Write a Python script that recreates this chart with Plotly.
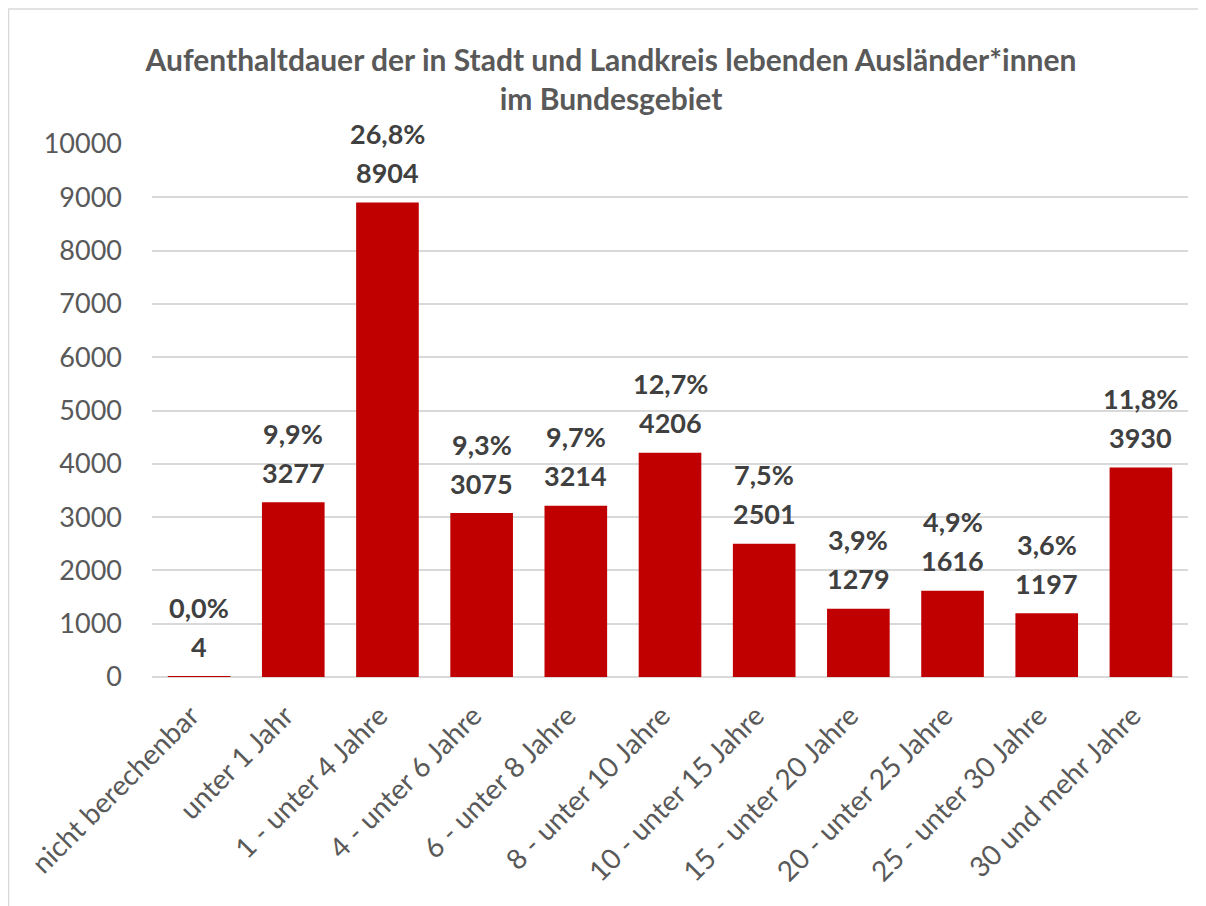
import plotly.graph_objects as go

categories = ["nicht berechenbar", "unter 1 Jahr", "1 - unter 4 Jahre", "4 - unter 6 Jahre",
              "6 - unter 8 Jahre", "8 - unter 10 Jahre", "10 - unter 15 Jahre",
              "15 - unter 20 Jahre", "20 - unter 25 Jahre", "25 - unter 30 Jahre",
              "30 und mehr Jahre"]
values = [4, 3277, 8904, 3075, 3214, 4206, 2501, 1279, 1616, 1197, 3930]
percents = ["0,0%", "9,9%", "26,8%", "9,3%", "9,7%", "12,7%", "7,5%", "3,9%", "4,9%", "3,6%", "11,8%"]
y_ticks = [0, 1000, 2000, 3000, 4000, 5000, 6000, 7000, 8000, 9000, 10000]
y_ticktext = [str(v) for v in y_ticks]

FONT = "Lato"
fig = go.Figure()
fig.add_trace(go.Bar(x=categories, y=values, marker=dict(color="#C00000", line=dict(width=0)),
                     hoverinfo="skip"))

annotations = []
for c, v, p in zip(categories, values, percents):
    annotations.append(dict(x=c, y=v, xref="x", yref="y", text=f"<b>{v}</b>", showarrow=False,
                            yanchor="middle", yshift=30, font=dict(family=FONT, size=27, color="#404040")))
    annotations.append(dict(x=c, y=v, xref="x", yref="y", text=f"<b>{p}</b>", showarrow=False,
                            yanchor="middle", yshift=69, font=dict(family=FONT, size=27, color="#404040")))

# plot area (figure coords; page adds 8px body margin)
L, T, R, B = 144, 136, 26, 237
PW, PH = 1206 - L - R, 906 - T - B

fig.update_layout(
    width=1206, height=906,
    margin=dict(l=L, r=R, t=T, b=B, autoexpand=False),
    paper_bgcolor="white", plot_bgcolor="white",
    bargap=0.335,
    showlegend=False,
    font=dict(family=FONT, color="#595959"),
    title=dict(text="<b>Aufenthaltdauer der in Stadt und Landkreis lebenden Ausländer*innen<br>im Bundesgebiet</b>",
               x=603 / 1206, xref="container", xanchor="center",
               y=1 - 63 / 906, yref="container", yanchor="middle",
               font=dict(family=FONT, size=30, color="#595959")),
    xaxis=dict(tickangle=-45, tickfont=dict(family=FONT, size=28, color="#595959"),
               showgrid=False, showline=False, ticks="", automargin=False,
               ticklabelstandoff=16, ticklabelshift=-8),
    yaxis=dict(range=[0, 10000], tickvals=y_ticks, ticktext=y_ticktext,
               tickfont=dict(family=FONT, size=27, color="#595959"),
               showgrid=True, gridcolor="#d9d9d9", gridwidth=1.5, zeroline=True,
               zerolinecolor="#d9d9d9", zerolinewidth=1.5, showline=False, ticks="",
               ticklabelstandoff=29, automargin=False),
    annotations=annotations,
    shapes=[dict(type="rect", xref="paper", yref="paper",
                 x0=(0.5 - L) / PW, x1=(1192 - L) / PW,
                 y0=(T + PH - 920) / PH, y1=(T + PH - 1) / PH,
                 line=dict(color="#d9d9d9", width=1.5), fillcolor="rgba(0,0,0,0)", layer="below")],
)

fig.write_html("out.html")
